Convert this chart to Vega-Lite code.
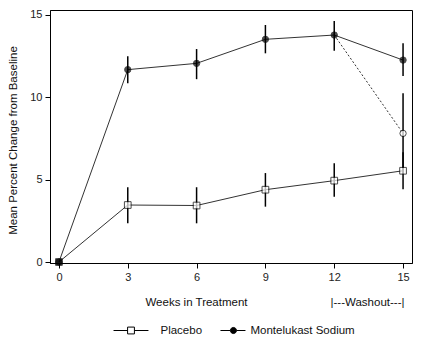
{
  "$schema": "https://vega.github.io/schema/vega-lite/v6.json",
  "width": 362,
  "height": 253,
  "autosize": "none",
  "padding": {"left": 50, "top": 10, "right": 13, "bottom": 82},
  "background": "white",
  "config": {
    "font": "Liberation Sans",
    "view": {"stroke": "black", "strokeWidth": 1},
    "axis": {"labelFont": "Liberation Sans", "titleFont": "Liberation Sans", "labelFontSize": 11, "titleFontSize": 11.5, "titleFontWeight": "normal", "labelColor": "#222", "titleColor": "#111", "domainColor": "black", "tickColor": "black", "grid": false}
  },
  "data": {"values": [
    {"series": "Montelukast Sodium", "week": 0, "mean": 0, "lo": 0, "hi": 0},
    {"series": "Montelukast Sodium", "week": 3, "mean": 11.68, "lo": 10.85, "hi": 12.49},
    {"series": "Montelukast Sodium", "week": 6, "mean": 12.06, "lo": 11.1, "hi": 12.93},
    {"series": "Montelukast Sodium", "week": 9, "mean": 13.52, "lo": 12.67, "hi": 14.39},
    {"series": "Montelukast Sodium", "week": 12, "mean": 13.78, "lo": 12.83, "hi": 14.63},
    {"series": "Montelukast Sodium", "week": 15, "mean": 12.26, "lo": 11.29, "hi": 13.28},
    {"series": "Placebo", "week": 0, "mean": 0, "lo": 0, "hi": 0},
    {"series": "Placebo", "week": 3, "mean": 3.46, "lo": 2.35, "hi": 4.54},
    {"series": "Placebo", "week": 6, "mean": 3.43, "lo": 2.35, "hi": 4.54},
    {"series": "Placebo", "week": 9, "mean": 4.39, "lo": 3.36, "hi": 5.4},
    {"series": "Placebo", "week": 12, "mean": 4.94, "lo": 3.96, "hi": 5.99},
    {"series": "Placebo", "week": 15, "mean": 5.54, "lo": 4.41, "hi": 6.67},
    {"series": "Washout", "week": 12, "mean": 13.78},
    {"series": "Washout", "week": 15, "mean": 7.81, "lo": 5.38, "hi": 10.24}
  ]},
  "resolve": {"axis": {"x": "independent"}},
  "layer": [
    {
      "transform": [{"filter": "datum.series !== 'Washout'"}],
      "mark": {"type": "line", "stroke": "#333", "strokeWidth": 1},
      "encoding": {
        "x": {"field": "week", "type": "quantitative", "scale": {"domain": [-0.39, 15.39], "nice": false, "zero": false},
          "axis": {"orient": "bottom", "values": [0, 3, 6, 9, 12, 15], "tickSize": 5, "labelPadding": 3, "title": "Weeks in Treatment", "titleX": 146, "titleY": 39, "titleBaseline": "middle", "titleAnchor": null, "titleAlign": "center"}},
        "y": {"field": "mean", "type": "quantitative", "scale": {"domain": [-0.06, 15.3], "nice": false, "zero": false},
          "axis": {"values": [0, 5, 10, 15], "tickSize": 5, "labelPadding": 3, "title": "Mean Percent Change from Baseline", "titleX": -37, "titleY": 130, "titleBaseline": "middle", "titleAlign": "center", "titleAngle": -90}},
        "detail": {"field": "series"}
      }
    },
    {
      "transform": [{"filter": "datum.series === 'Washout'"}],
      "mark": {"type": "line", "stroke": "#333", "strokeWidth": 1, "strokeDash": [2, 2]},
      "encoding": {
        "x": {"field": "week", "type": "quantitative",
          "axis": {"orient": "bottom", "domain": false, "ticks": false, "labels": false, "title": "|---Washout---|", "titleX": 317, "titleY": 39, "titleBaseline": "middle", "titleAnchor": null, "titleAlign": "center"}},
        "y": {"field": "mean", "type": "quantitative"}
      }
    },
    {
      "transform": [{"filter": "datum.week > 0 && datum.hi != null"}],
      "mark": {"type": "rule", "stroke": "black", "strokeWidth": 1.5},
      "encoding": {
        "x": {"field": "week", "type": "quantitative", "axis": null},
        "y": {"field": "lo", "type": "quantitative"},
        "y2": {"field": "hi"}
      }
    },
    {
      "transform": [{"filter": "datum.series === 'Washout' && datum.week === 15"}],
      "mark": {"type": "point", "shape": "circle", "size": 40, "filled": true, "fill": "white", "stroke": "black", "strokeWidth": 1},
      "encoding": {
        "x": {"field": "week", "type": "quantitative", "axis": null},
        "y": {"field": "mean", "type": "quantitative"}
      }
    },
    {
      "transform": [{"filter": "datum.series === 'Montelukast Sodium'"}],
      "mark": {"type": "point", "shape": "circle", "size": 40, "filled": true, "fill": "black", "stroke": "black", "strokeWidth": 1},
      "encoding": {
        "x": {"field": "week", "type": "quantitative", "axis": null},
        "y": {"field": "mean", "type": "quantitative"}
      }
    },
    {
      "transform": [{"filter": "datum.series === 'Placebo'"}],
      "mark": {"type": "point", "shape": "square", "size": 45, "filled": true, "stroke": "black", "strokeWidth": 1},
      "encoding": {
        "x": {"field": "week", "type": "quantitative", "axis": null},
        "y": {"field": "mean", "type": "quantitative"},
        "fill": {"condition": {"test": "datum.week === 0", "value": "black"}, "value": "white"}
      }
    },
    {
      "transform": [{"filter": "datum.week === 0 && datum.series !== 'Washout'"}],
      "mark": {"type": "point", "filled": true, "opacity": 0, "strokeWidth": 1},
      "encoding": {
        "x": {"field": "week", "type": "quantitative", "axis": null},
        "y": {"field": "mean", "type": "quantitative"},
        "shape": {"field": "series", "type": "nominal", "scale": {"domain": ["Placebo", "Montelukast Sodium"], "range": ["M-0.97,0H-0.19M0.19,0H0.97M-0.19,-0.19H0.19V0.19H-0.19Z", "M-0.03,0H0.52M0.86,0H1.36M0.52,0A0.17,0.17,0,1,1,0.86,0A0.17,0.17,0,1,1,0.52,0Z"]},
          "legend": {"orient": "none", "direction": "horizontal", "legendX": 62.5, "legendY": 302, "title": null, "padding": 0,
            "symbolSize": 1296, "symbolOpacity": 1, "symbolStrokeWidth": 1, "labelFontSize": 11.5, "labelFont": "Liberation Sans", "labelColor": "#111", "labelOffset": 11, "columnPadding": 0}},
        "fill": {"field": "series", "type": "nominal", "scale": {"domain": ["Placebo", "Montelukast Sodium"], "range": ["white", "black"]}},
        "stroke": {"field": "series", "type": "nominal", "scale": {"domain": ["Placebo", "Montelukast Sodium"], "range": ["black", "black"]}}
      }
    }
  ]
}
